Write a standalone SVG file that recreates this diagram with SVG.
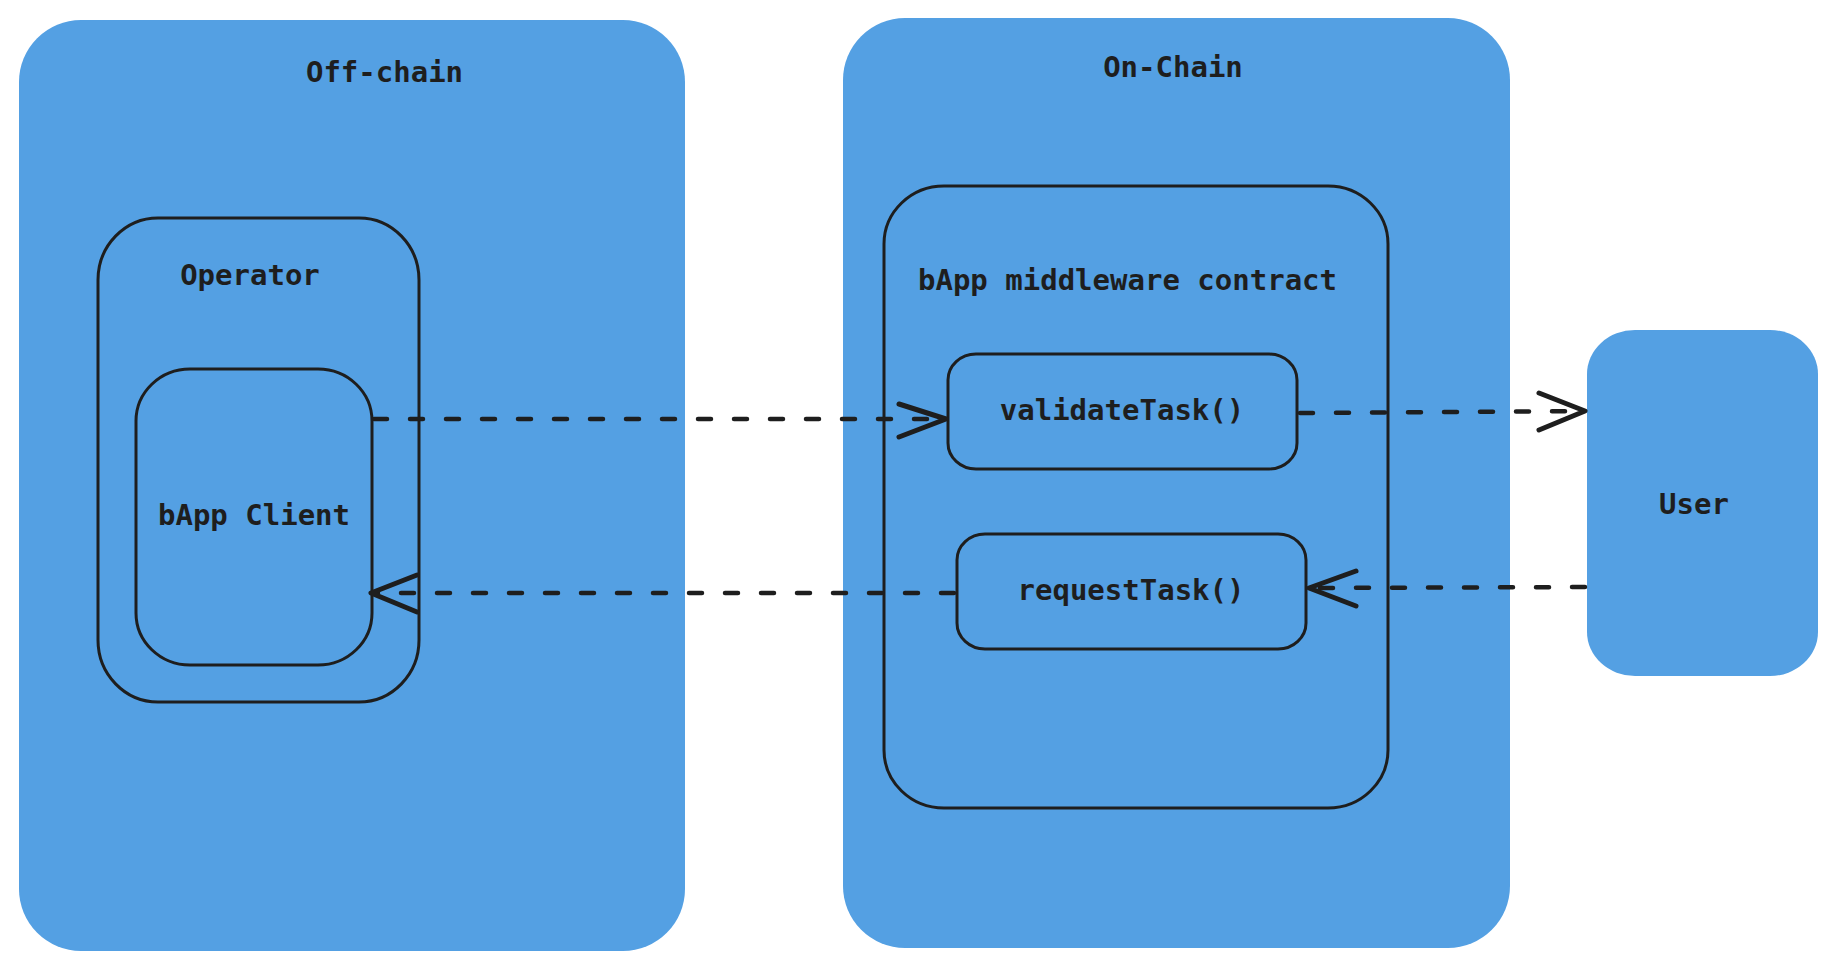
<svg xmlns="http://www.w3.org/2000/svg" width="1836" height="969" viewBox="0 0 1836 969">
<style>
.zone{fill:#54a0e3;stroke:none}
.box{fill:none;stroke:#1e1e1e;stroke-width:3}
.lbl{font-family:"DejaVu Sans Mono","Liberation Mono",monospace;font-size:29px;font-weight:bold;fill:#1e1e1e;text-anchor:middle}
.dash{fill:none;stroke:#1e1e1e;stroke-width:4.5;stroke-linecap:round;stroke-dasharray:13 23}
.head{fill:none;stroke:#1e1e1e;stroke-width:5;stroke-linecap:round;stroke-linejoin:round}
</style>
<rect width="1836" height="969" fill="#ffffff"/>
<g id="offchain">
<rect class="zone" x="19" y="20" width="666" height="931" rx="62" ry="62"/>
<text class="lbl" x="384.5" y="82">Off-chain</text>
</g>
<g id="onchain">
<rect class="zone" x="843" y="18" width="667" height="930" rx="62" ry="62"/>
<text class="lbl" x="1173" y="77">On-Chain</text>
</g>
<g id="user">
<rect class="zone" x="1587" y="330" width="231" height="346" rx="48" ry="44"/>
<text class="lbl" x="1694" y="514">User</text>
</g>
<g id="operator">
<rect class="box" x="98" y="218" width="321" height="484" rx="60" ry="62"/>
<text class="lbl" x="250" y="285">Operator</text>
</g>
<g id="bapp-client">
<rect class="box" x="136" y="369" width="236" height="296" rx="54" ry="52"/>
<text class="lbl" x="254" y="525">bApp Client</text>
</g>
<g id="middleware">
<rect class="box" x="884" y="186" width="504" height="622" rx="60" ry="58"/>
<text class="lbl" x="1127.5" y="290">bApp middleware contract</text>
</g>
<g id="validateTask">
<rect class="box" x="948" y="354" width="349" height="115" rx="28" ry="26"/>
<text class="lbl" x="1122" y="420">validateTask()</text>
</g>
<g id="requestTask">
<rect class="box" x="957" y="534" width="349" height="115" rx="28" ry="26"/>
<text class="lbl" x="1131" y="600">requestTask()</text>
</g>
<g id="connectors">
<path class="dash" d="M374 419 L944 419"/>
<path class="head" d="M899 404 L946 419 L899 437"/>
<path class="dash" d="M1300 413 L1583 411"/>
<path class="head" d="M1539 393 L1585 411 L1539 430"/>
<path class="dash" d="M954 593 L376 593"/>
<path class="head" d="M417 575 L371 593 L417 612"/>
<path class="dash" d="M1585 587 L1310 588"/>
<path class="head" d="M1356 571 L1309 588 L1356 606"/>
</g>
</svg>
